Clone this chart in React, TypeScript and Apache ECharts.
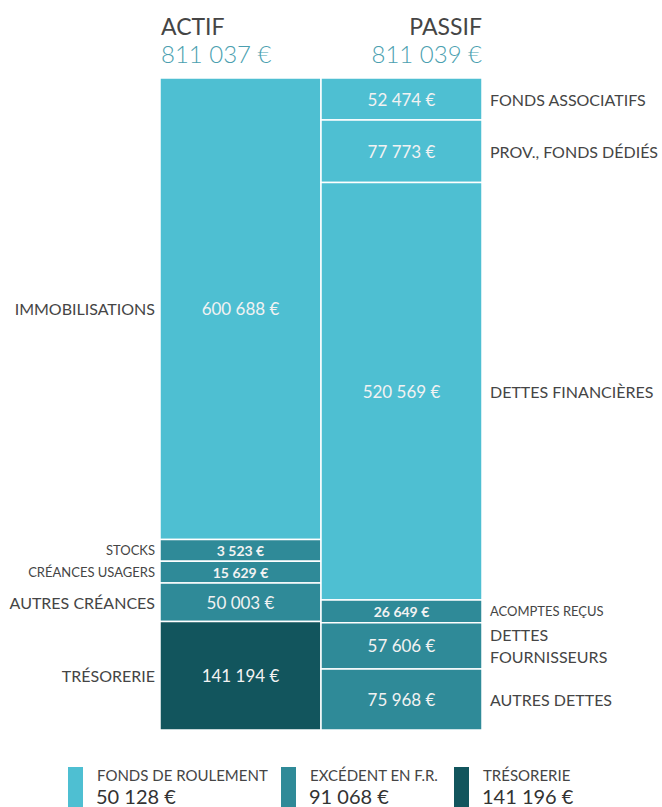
import React, { useEffect, useRef } from "react";
import * as echarts from "echarts";

const actifLabels = ["IMMOBILISATIONS", "STOCKS", "CRÉANCES USAGERS", "AUTRES CRÉANCES", "TRÉSORERIE"];
const actifValues = [600688, 3523, 15629, 50003, 141194];
const actifKinds = [0, 1, 1, 1, 2];

const passifLabels = ["FONDS ASSOCIATIFS", "PROV., FONDS DÉDIÉS", "DETTES FINANCIÈRES", "ACOMPTES REÇUS", "DETTES\nFOURNISSEURS", "AUTRES DETTES"];
const passifValues = [52474, 77773, 520569, 26649, 57606, 75968];
const passifKinds = [0, 0, 0, 1, 1, 1];

const columnTitles = ["ACTIF", "PASSIF"];

const legendNames = ["FONDS DE ROULEMENT", "EXCÉDENT EN F.R.", "TRÉSORERIE"];
const legendValues = [50128, 91068, 141196];

const COLORS = ["#4ebfd2", "#2f8a98", "#12555d"];
const FONT = "Lato, 'Open Sans', sans-serif";
const TEXT = "#454545";
const TEAL = "#4b9fb0";

const fmt = (v: number) => String(v).replace(/\B(?=(\d{3})+(?!\d))/g, " ") + " €";

type Item = { col: number; start: number; end: number; value: number; label: string; kind: number; small: boolean };

function buildItems(col: number, labels: string[], values: number[], kinds: number[]): Item[] {
  const total = values.reduce((a, b) => a + b, 0);
  const minV = total * 0.035;
  const disp = values.map((v) => Math.max(v, minV));
  const dTotal = disp.reduce((a, b) => a + b, 0);
  let acc = 0;
  return values.map((v, i) => {
    const start = acc / dTotal;
    acc += disp[i];
    const end = acc / dTotal;
    return { col, start, end, value: v, label: labels[i], kind: kinds[i], small: v < minV };
  });
}

export default function App() {
  const ref = useRef<HTMLDivElement>(null);
  useEffect(() => {
    if (!ref.current) return;
    const chart = echarts.init(ref.current, undefined, { renderer: "svg" });
    const items = [
      ...buildItems(0, actifLabels, actifValues, actifKinds),
      ...buildItems(1, passifLabels, passifValues, passifKinds),
    ];
    const totals = [actifValues, passifValues].map((a) => a.reduce((x, y) => x + y, 0));

    const graphics: any[] = [];
    columnTitles.forEach((t, i) => {
      const x = i === 0 ? 161 : 482;
      const align = i === 0 ? "left" : "right";
      graphics.push({
        type: "text", x, y: 26,
        style: { text: t, align, verticalAlign: "middle", fontSize: 23, fontFamily: FONT, fill: TEXT },
      });
      graphics.push({
        type: "text", x, y: 53,
        style: { text: fmt(totals[i]), align, verticalAlign: "middle", fontSize: 24, fontWeight: 300, fontFamily: FONT, fill: TEAL },
      });
    });
    const legendX = [68, 281, 454];
    legendNames.forEach((n, i) => {
      const x = legendX[i];
      graphics.push({ type: "rect", shape: { x, y: 767, width: 15, height: 45 }, style: { fill: COLORS[i] } });
      graphics.push({
        type: "text", x: x + 29, y: 775,
        style: { text: n, align: "left", verticalAlign: "middle", fontSize: 15, lineHeight: 16, fontFamily: FONT, fill: TEXT },
      });
      graphics.push({
        type: "text", x: x + 28, y: 796,
        style: { text: fmt(legendValues[i]), align: "left", verticalAlign: "middle", fontSize: 20, lineHeight: 20, fontFamily: FONT, fill: "#333" },
      });
    });

    chart.setOption({
      animation: false,
      grid: { left: 160, right: 180, top: 78, bottom: 77 },
      xAxis: { type: "value", min: 0, max: 2, show: false },
      yAxis: { type: "value", min: 0, max: 1, inverse: true, show: false },
      graphic: graphics,
      series: [
        {
          type: "custom",
          clip: false,
          data: items.map((d) => [d.col, d.start, d.end, d.value]),
          renderItem: (params: any, api: any) => {
            const d = items[params.dataIndex];
            const p0 = api.coord([d.col, d.start]);
            const p1 = api.coord([d.col + 1, d.end]);
            const x = p0[0], y = p0[1], w = p1[0] - p0[0], h = p1[1] - p0[1];
            const cy = y + h / 2;
            const lines = d.label.split("\n");
            return {
              type: "group",
              children: [
                {
                  type: "rect",
                  shape: { x, y, width: w, height: h },
                  style: { fill: COLORS[d.kind], stroke: "#ffffff", lineWidth: 1.5 },
                },
                {
                  type: "text", x: x + w / 2, y: cy,
                  style: {
                    text: fmt(d.value), align: "center", verticalAlign: "middle",
                    fontSize: d.small ? 14 : 17, fontWeight: d.small ? "bold" : "normal",
                    fontFamily: FONT, fill: "#f2f2f2",
                  },
                },
                {
                  type: "text",
                  x: d.col === 0 ? x - 5 : x + w + 8,
                  y: cy,
                  style: {
                    text: d.label, align: d.col === 0 ? "right" : "left", verticalAlign: "middle",
                    fontSize: d.small ? 13 : 16, lineHeight: lines.length > 1 ? 22 : undefined,
                    fontFamily: FONT, fill: TEXT,
                  },
                },
              ],
            };
          },
        },
      ],
    });
    return () => chart.dispose();
  }, []);
  return <div ref={ref} style={{ position: "fixed", left: 0, top: 0, width: 662, height: 807, background: "#fff" }} />;
}
